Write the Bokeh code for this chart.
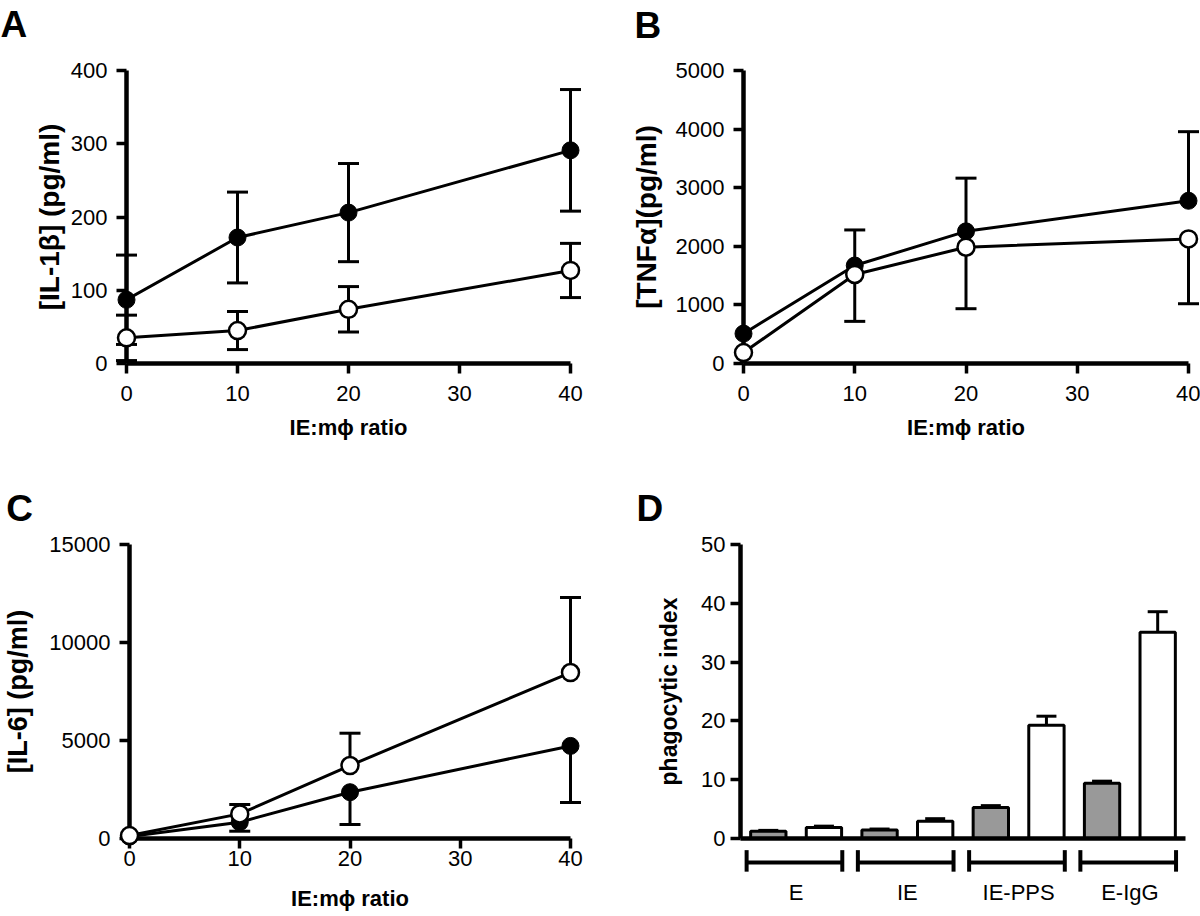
from bokeh.plotting import figure
from bokeh.models import Range1d, FixedTicker
from bokeh.core.properties import value
from bokeh.layouts import column, row
from bokeh.embed import file_html
from bokeh.resources import INLINE

# ---------------- data ----------------
ratio = [0, 10, 20, 40]
x_ticks = [0, 10, 20, 30, 40]
x_label = "IE:m\u03d5 ratio"

il1b_ticks = [0, 100, 200, 300, 400]
il1b_filled = [87, 172, 206, 291]
il1b_filled_sem = [61, 62, 67, 83]
il1b_open = [35, 45, 74, 127]
il1b_open_sem = [31, 26, 31, 37]

tnf_ticks = [0, 1000, 2000, 3000, 4000, 5000]
tnf_filled = [510, 1672, 2255, 2777]
tnf_filled_sem = [0, 607, 908, 1179]
tnf_open = [187, 1519, 1984, 2126]
tnf_open_sem = [0, 800, 1049, 1106]

il6_ticks = [0, 5000, 10000, 15000]
il6_filled = [100, 832, 2362, 4724]
il6_filled_sem = [0, 460, 1648, 2887]
il6_open = [150, 1255, 3724, 8469]
il6_open_sem = [0, 480, 1648, 3827]

groups = ["E", "IE", "IE-PPS", "E-IgG"]
phago_ticks = [0, 10, 20, 30, 40, 50]
phago_gray = [1.23, 1.46, 5.29, 9.4]
phago_gray_sem = [0.15, 0.15, 0.3, 0.35]
phago_white = [1.85, 2.92, 19.25, 35.07]
phago_white_sem = [0.25, 0.45, 1.55, 3.5]

FONT = "Liberation Sans"


def make_fig(w, h, frame, xr, yr):
    L, R, T, B = frame
    p = figure(width=w, height=h, x_range=Range1d(*xr), y_range=Range1d(*yr),
               output_backend="svg", toolbar_location=None,
               min_border_left=L, min_border_right=w - R,
               min_border_top=T, min_border_bottom=h - B)
    p.outline_line_color = None
    p.xgrid.visible = False
    p.ygrid.visible = False
    p.background_fill_color = "white"
    p.border_fill_color = "white"
    return p


def style_axis(ax, ticks, label_standoff, axis_label, label_size, label_bold, label_standoff2,
               tick_out=10):
    ax.ticker = FixedTicker(ticks=ticks)
    ax.axis_line_width = 4.5
    ax.axis_line_color = "black"
    ax.major_tick_line_width = 3.5
    ax.major_tick_line_color = "black"
    ax.major_tick_out = tick_out
    ax.major_tick_in = 0
    ax.minor_tick_line_color = None
    ax.major_label_text_font = FONT
    ax.major_label_text_font_size = "22px"
    ax.major_label_text_color = "black"
    ax.major_label_standoff = label_standoff
    ax.axis_label = axis_label
    ax.axis_label_text_font = FONT
    ax.axis_label_text_font_size = label_size
    ax.axis_label_text_font_style = "bold" if label_bold else "normal"
    ax.axis_label_text_color = "black"
    ax.axis_label_standoff = label_standoff2


def add_err(p, xs, ys, es, direction, cap=21, lw=3):
    pts = [(x, y, e) for x, y, e in zip(xs, ys, es) if e > 0]
    bx = [a for a, _, _ in pts]
    by = [b for _, b, _ in pts]
    be = [c for _, _, c in pts]
    ends = []
    if direction in ("up", "both"):
        ends.append([y + e for y, e in zip(by, be)])
    if direction in ("down", "both"):
        ends.append([y - e for y, e in zip(by, be)])
    for end in ends:
        p.segment(x0=bx, y0=by, x1=bx, y1=end, line_width=lw, line_color="black",
                  level="overlay")
        p.scatter(x=bx, y=end, marker="dash", size=cap, line_width=lw,
                  line_color="black", level="overlay")


def add_letter(p, frame, xr, yr, text, fx, fy):
    L, R, T, B = frame
    x = xr[0] + (fx - L) / (R - L) * (xr[1] - xr[0])
    y = yr[0] + (B - fy) / (B - T) * (yr[1] - yr[0])
    p.text(x=[x], y=[y], text=[text], text_font=value(FONT), text_font_size="37px",
           text_font_style="bold", text_align="left", text_baseline="alphabetic",
           text_color="black", level="overlay")


def line_panel(w, h, frame, yr, yticks, ylabel, filled, filled_sem, filled_dir,
               open_, open_sem, open_dir, letter, letter_px, xcfg, ycfg):
    xr = (0, 40)
    p = make_fig(w, h, frame, xr, yr)
    style_axis(p.xaxis[0], x_ticks, xcfg[0], x_label, "22px", True, xcfg[1])
    style_axis(p.yaxis[0], yticks, ycfg[0], ylabel, ycfg[2], True, ycfg[1])
    p.line(ratio, filled, line_width=3, line_color="black")
    p.line(ratio, open_, line_width=3, line_color="black")
    add_err(p, ratio, filled, filled_sem, filled_dir)
    add_err(p, ratio, open_, open_sem, open_dir)
    p.scatter(ratio, filled, marker="circle", size=17, fill_color="black",
              line_color="black", line_width=1, level="overlay")
    p.scatter(ratio, open_, marker="circle", size=17, fill_color="white",
              line_color="black", line_width=2.5, level="overlay")
    add_letter(p, frame, xr, yr, letter, *letter_px)
    return p


# ---------------- panels ----------------
fA = (126, 570, 70, 364)
pA = line_panel(600, 470, fA, (0, 400), il1b_ticks, "[IL-1\u03b2] (pg/ml)",
                il1b_filled, il1b_filled_sem, "both", il1b_open, il1b_open_sem, "both",
                "A", (0, 24), (12, 11), (9, 3, "28px"))

fB = (143, 588, 69, 363)
pB = line_panel(600, 470, fB, (0, 5000), tnf_ticks, "[TNF\u03b1](pg/ml)",
                tnf_filled, tnf_filled_sem, "up", tnf_open, tnf_open_sem, "down",
                "B", (34, 24), (12, 11), (9, 11, "28px"))

fC = (126, 570, 74, 368)
pC = line_panel(600, 446, fC, (0, 15000), il6_ticks, "[IL-6] (pg/ml)",
                il6_filled, il6_filled_sem, "down", il6_open, il6_open_sem, "up",
                "C", (2, 38), (2, 17), (9, 13, "27px"))

# Panel D: bar chart
fD = (140, 585, 73, 369)
xrD = (0, 16)
yrD = (0, 50)
pD = make_fig(600, 446, fD, xrD, yrD)
gray_x = [4 * i + 1 for i in range(len(groups))]
white_x = [4 * i + 3 for i in range(len(groups))]
centers = [4 * i + 2 for i in range(len(groups))]
style_axis(pD.yaxis[0], phago_ticks, 5, "phagocytic index", "23px", True, 16)
style_axis(pD.xaxis[0], centers, 41, "", "22px", False, 0, tick_out=0)
pD.xaxis[0].major_tick_line_color = None
pD.xaxis[0].major_label_overrides = {c: g for c, g in zip(centers, groups)}

pD.vbar(x=gray_x, top=phago_gray, bottom=0, width=1.27, fill_color="#999999",
        line_color="black", line_width=3)
pD.vbar(x=white_x, top=phago_white, bottom=0, width=1.27, fill_color="white",
        line_color="black", line_width=3)
add_err(pD, gray_x, phago_gray, phago_gray_sem, "up", cap=20)
add_err(pD, white_x, phago_white, phago_white_sem, "up", cap=20)

# group brackets under the axis
b_lo = [g - 0.78 for g in gray_x]
b_hi = [w + 0.66 for w in white_x]
pD.segment(x0=b_lo, y0=[-4.1] * len(groups), x1=b_hi, y1=[-4.1] * len(groups),
           line_width=4, line_color="black", level="overlay")
pD.segment(x0=b_lo + b_hi, y0=[-1.98] * (2 * len(groups)), x1=b_lo + b_hi,
           y1=[-5.64] * (2 * len(groups)), line_width=4, line_color="black",
           level="overlay")
add_letter(pD, fD, xrD, yrD, "D", 36, 37)

layout = column(row(pA, pB), row(pC, pD))
open("out.html", "w").write(file_html(layout, INLINE))
